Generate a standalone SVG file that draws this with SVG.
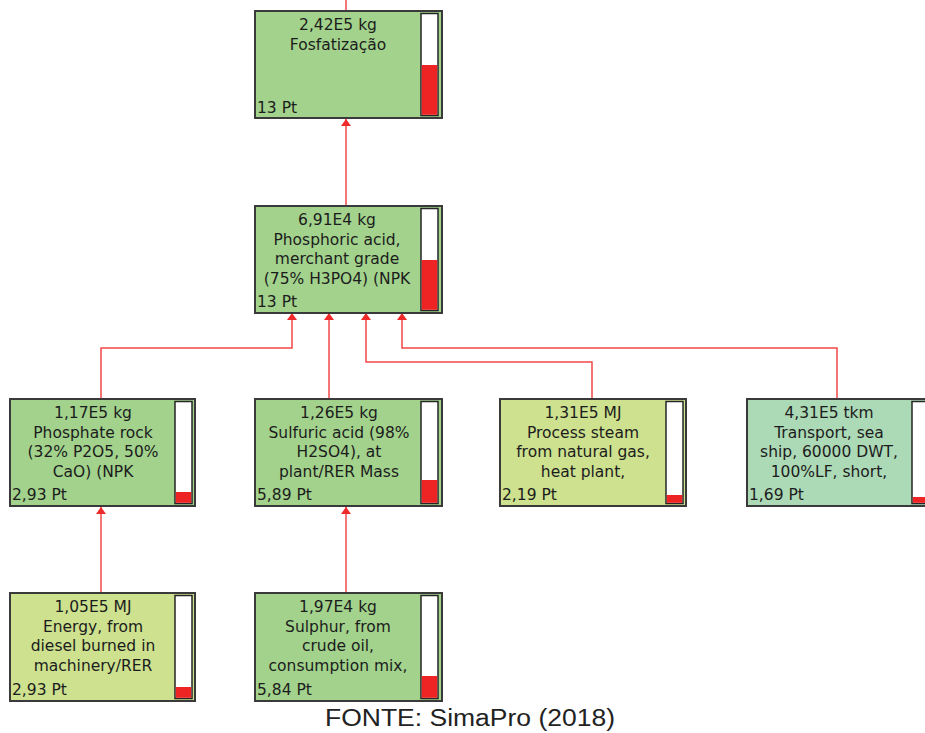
<svg xmlns="http://www.w3.org/2000/svg" width="925" height="733" viewBox="0 0 925 733">
  <defs>
    <marker id="arrow" viewBox="0 0 7 10" refX="7" refY="5" markerWidth="7" markerHeight="10" markerUnits="userSpaceOnUse" orient="auto">
      <path d="M0,0 L7,5 L0,10 Z" fill="#ee2a2a"/>
    </marker>
    <style>
      .box { stroke: #3a3a3a; stroke-width: 2; }
      .g { fill: #a2d28c; }
      .y { fill: #cde18f; }
      .t { fill: #acd9b6; }
      .bar { fill: #ffffff; stroke: #262626; stroke-width: 1.5; }
      .lvl { fill: #ee2424; }
      .lbl { font-family: "DejaVu Sans", Verdana, sans-serif; font-size: 15.5px; fill: #1c1c1c; text-anchor: middle; }
      .pt { font-family: "DejaVu Sans", Verdana, sans-serif; font-size: 15.5px; fill: #1c1c1c; }
      .link { fill: none; stroke: #f24848; stroke-width: 1.5; }
      .cap { font-family: "Liberation Sans", Arial, sans-serif; font-size: 23px; fill: #222222; }
    </style>
  </defs>

  <!-- connectors -->
  <g id="connectors">
    <path class="link" d="M346 11 V0"/>
    <path class="link" d="M346 205 V119" marker-end="url(#arrow)"/>
    <path class="link" d="M101 398 V348 H292 V313" marker-end="url(#arrow)"/>
    <path class="link" d="M329 398 V313" marker-end="url(#arrow)"/>
    <path class="link" d="M592 398 V362 H366 V313" marker-end="url(#arrow)"/>
    <path class="link" d="M837 398 V348 H402 V313" marker-end="url(#arrow)"/>
    <path class="link" d="M101 592 V507" marker-end="url(#arrow)"/>
    <path class="link" d="M346 592 V507" marker-end="url(#arrow)"/>
  </g>

  <!-- Fosfatização -->
  <g id="n1">
    <rect class="box g" x="255" y="11" width="187" height="107"/>
    <rect class="bar" x="421" y="13.5" width="17" height="102"/>
    <rect class="lvl" x="421.8" y="65" width="15.4" height="49.8"/>
    <text class="lbl" x="338" y="30">2,42E5 kg</text>
    <text class="lbl" x="338" y="49.5">Fosfatização</text>
    <text class="pt" x="257" y="113">13 Pt</text>
  </g>

  <!-- Phosphoric acid -->
  <g id="n2">
    <rect class="box g" x="255" y="206" width="187" height="107"/>
    <rect class="bar" x="421" y="208.5" width="17" height="102"/>
    <rect class="lvl" x="421.8" y="260" width="15.4" height="49.8"/>
    <text class="lbl" x="337" y="225">6,91E4 kg</text>
    <text class="lbl" x="337" y="244.5">Phosphoric acid,</text>
    <text class="lbl" x="337" y="264">merchant grade</text>
    <text class="lbl" x="337" y="283.5">(75% H3PO4) (NPK</text>
    <text class="pt" x="257" y="307">13 Pt</text>
  </g>

  <!-- Phosphate rock -->
  <g id="n3">
    <rect class="box g" x="10" y="399" width="185" height="107"/>
    <rect class="bar" x="175" y="401.5" width="17" height="102"/>
    <rect class="lvl" x="175.8" y="492" width="15.4" height="10.8"/>
    <text class="lbl" x="93" y="418">1,17E5 kg</text>
    <text class="lbl" x="93" y="437.5">Phosphate rock</text>
    <text class="lbl" x="93" y="457">(32% P2O5, 50%</text>
    <text class="lbl" x="93" y="476.5">CaO) (NPK</text>
    <text class="pt" x="12" y="500">2,93 Pt</text>
  </g>

  <!-- Sulfuric acid -->
  <g id="n4">
    <rect class="box g" x="255" y="399" width="187" height="107"/>
    <rect class="bar" x="421" y="401.5" width="17" height="102"/>
    <rect class="lvl" x="421.8" y="480" width="15.4" height="22.8"/>
    <text class="lbl" x="339" y="418">1,26E5 kg</text>
    <text class="lbl" x="339" y="437.5">Sulfuric acid (98%</text>
    <text class="lbl" x="339" y="457">H2SO4), at</text>
    <text class="lbl" x="339" y="476.5">plant/RER Mass</text>
    <text class="pt" x="257" y="500">5,89 Pt</text>
  </g>

  <!-- Process steam -->
  <g id="n5">
    <rect class="box y" x="500" y="399" width="186" height="107"/>
    <rect class="bar" x="666" y="401.5" width="17" height="102"/>
    <rect class="lvl" x="666.8" y="495" width="15.4" height="7.8"/>
    <text class="lbl" x="583" y="418">1,31E5 MJ</text>
    <text class="lbl" x="583" y="437.5">Process steam</text>
    <text class="lbl" x="583" y="457">from natural gas,</text>
    <text class="lbl" x="583" y="476.5">heat plant,</text>
    <text class="pt" x="502" y="500">2,19 Pt</text>
  </g>

  <!-- Transport, sea ship -->
  <g id="n6">
    <rect class="box t" x="747" y="399" width="187" height="107"/>
    <rect class="bar" x="912" y="401.5" width="17" height="102"/>
    <rect class="lvl" x="912.8" y="497" width="15.4" height="5.8"/>
    <text class="lbl" x="829" y="418">4,31E5 tkm</text>
    <text class="lbl" x="829" y="437.5">Transport, sea</text>
    <text class="lbl" x="829" y="457">ship, 60000 DWT,</text>
    <text class="lbl" x="829" y="476.5">100%LF, short,</text>
    <text class="pt" x="749" y="500">1,69 Pt</text>
  </g>

  <!-- Energy, diesel -->
  <g id="n7">
    <rect class="box y" x="10" y="593" width="185" height="108"/>
    <rect class="bar" x="175" y="595.5" width="17" height="103"/>
    <rect class="lvl" x="175.8" y="687" width="15.4" height="10.8"/>
    <text class="lbl" x="93" y="612">1,05E5 MJ</text>
    <text class="lbl" x="93" y="631.5">Energy, from</text>
    <text class="lbl" x="93" y="651">diesel burned in</text>
    <text class="lbl" x="93" y="670.5">machinery/RER</text>
    <text class="pt" x="12" y="695">2,93 Pt</text>
  </g>

  <!-- Sulphur -->
  <g id="n8">
    <rect class="box g" x="255" y="593" width="187" height="108"/>
    <rect class="bar" x="421" y="595.5" width="17" height="103"/>
    <rect class="lvl" x="421.8" y="676" width="15.4" height="21.8"/>
    <text class="lbl" x="338" y="612">1,97E4 kg</text>
    <text class="lbl" x="338" y="631.5">Sulphur, from</text>
    <text class="lbl" x="338" y="651">crude oil,</text>
    <text class="lbl" x="338" y="670.5">consumption mix,</text>
    <text class="pt" x="257" y="695">5,84 Pt</text>
  </g>

  <text class="cap" x="325" y="726" textLength="290" lengthAdjust="spacingAndGlyphs">FONTE: SimaPro (2018)</text>
</svg>
